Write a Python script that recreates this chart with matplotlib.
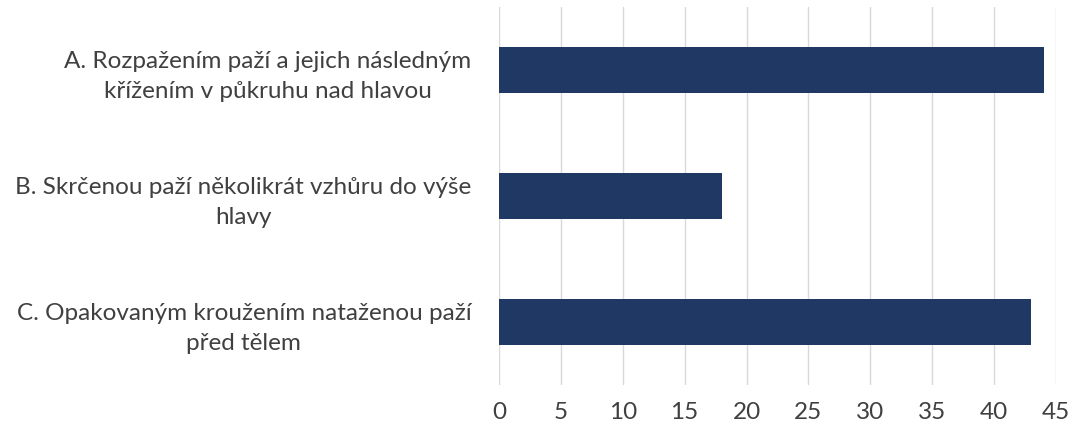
import matplotlib
matplotlib.use("Agg")
import matplotlib.pyplot as plt

categories = [
    "A. Rozpažením paží a jejich následným\nkřížením v půkruhu nad hlavou",
    "B. Skrčenou paží několikrát vzhůru do výše\nhlavy",
    "C. Opakovaným kroužením nataženou paží\npřed tělem",
]
values = [44, 18, 43]
xticks = [0, 5, 10, 15, 20, 25, 30, 35, 40, 45]

plt.rcParams['font.family'] = ['Lato', 'DejaVu Sans']

fig = plt.figure(figsize=(10.74, 4.29), dpi=100)
ax = fig.add_axes([499/1074, 1 - 385/429, (1056 - 499)/1074, (385 - 7)/429])

ypos = list(range(len(categories)))
ax.barh(ypos, values, height=0.365, color="#203864", zorder=3)
ax.set_ylim(len(categories) - 0.5, -0.5)
ax.set_xlim(0, 45)
ax.set_xticks(xticks)
ax.set_xticklabels([str(t) for t in xticks])
ax.set_yticks(ypos)
ax.set_yticklabels(categories, multialignment="center", linespacing=1.5)

for s in ax.spines.values():
    s.set_visible(False)
ax.grid(axis="x", color="#d9d9d9", linewidth=1.0, zorder=0)
ax.tick_params(axis="both", length=0, colors="#404040", labelsize=17.5)
ax.tick_params(axis="x", pad=12)
ax.tick_params(axis="y", pad=20)

fig.savefig("out.png", dpi=100, facecolor="white")
